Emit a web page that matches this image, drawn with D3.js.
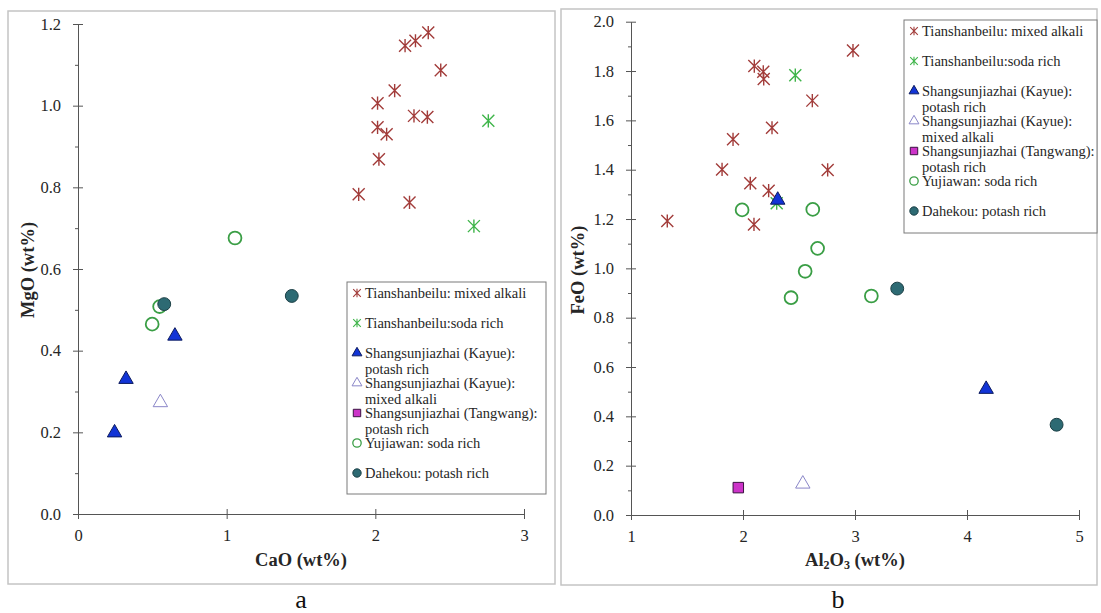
<!DOCTYPE html>
<html>
<head>
<meta charset="utf-8">
<title>CaO-MgO and Al2O3-FeO scatter</title>
<script src="https://cdn.jsdelivr.net/npm/d3@7"></script>
<style>
  body { margin: 0; background: #fff; }
  .axis path, .axis line { stroke: #555; }
</style>
</head>
<body>
<svg id="chart" width="1101" height="613"></svg>
<script>
// legend entries, some wrap onto a second line
var seriesLabels = [
  ["Tianshanbeilu: mixed alkali"],
  ["Tianshanbeilu:soda rich"],
  ["Shangsunjiazhai (Kayue):", "potash rich"],
  ["Shangsunjiazhai (Kayue):", "mixed alkali"],
  ["Shangsunjiazhai (Tangwang):", "potash rich"],
  ["Yujiawan: soda rich"],
  ["Dahekou: potash rich"]
];

// panel a : [CaO, MgO] in wt%
var aMixed = [[2.20,1.147],[2.27,1.159],[2.356,1.179],[2.44,1.087],[2.13,1.037],[2.015,1.006],
              [2.26,0.975],[2.35,0.972],[2.015,0.947],[2.076,0.930],[2.024,0.869],[1.888,0.783],[2.23,0.763]];
var aSoda = [[2.76,0.963],[2.663,0.705]];
var aKayuePotash = [[0.652,0.436],[0.323,0.330],[0.246,0.199]];
var aKayueMixed = [[0.554,0.273]];
var aTangwang = [];
var aYujiawan = [[1.056,0.676],[0.549,0.508],[0.499,0.465]];
var aDahekou = [[0.580,0.514],[1.438,0.534]];

// panel b : [Al2O3, FeO] in wt%
var bMixed = [[1.324,1.192],[1.813,1.401],[1.911,1.523],[2.101,1.820],[2.181,1.797],[2.185,1.768],
              [2.259,1.570],[2.065,1.345],[2.229,1.315],[2.098,1.178],[2.619,1.680],[2.756,1.399],[2.982,1.883]];
var bSoda = [[2.467,1.783],[2.301,1.264]];
var bKayuePotash = [[2.31,1.277],[4.171,0.510]];
var bKayueMixed = [[2.534,0.126]];
var bTangwang = [[1.958,0.111]];
var bYujiawan = [[1.992,1.237],[2.623,1.239],[2.666,1.081],[2.555,0.988],[2.429,0.881],[3.146,0.888]];
var bDahekou = [[3.377,0.918],[4.80,0.366]];

var xTicksA = [0, 1, 2, 3];
var xTicksB = [1, 2, 3, 4, 5];
var yTicksA = [0, 0.2, 0.4, 0.6, 0.8, 1.0, 1.2];
var yTicksB = [0, 0.2, 0.4, 0.6, 0.8, 1.0, 1.2, 1.4, 1.6, 1.8, 2.0];

var SERIF = "Liberation Serif";
var svg = d3.select("#chart");

// marker styles per series (same order as seriesLabels)
var styles = [
  {kind: "star", stroke: "#a23c3a", fill: "none"},
  {kind: "star", stroke: "#3fb54a", fill: "none"},
  {kind: "tri", stroke: "#0b1a5e", fill: "#1234d6"},
  {kind: "tri", stroke: "#8a86c8", fill: "#fff"},
  {kind: "sq", stroke: "#3a1240", fill: "#cc33c8"},
  {kind: "circ", stroke: "#3a9e45", fill: "#fff"},
  {kind: "circ", stroke: "#1b3f45", fill: "#2d6a73"}
];

function starPath(s) {
  var p = d3.path();
  p.moveTo(-s, -s); p.lineTo(s, s);
  p.moveTo(-s, s); p.lineTo(s, -s);
  p.moveTo(0, -s * 1.1); p.lineTo(0, s * 1.1);
  return p.toString();
}

function drawMarker(g, st, big) {
  if (st.kind == "star") {
    g.append("path").attr("d", starPath(big ? 6 : 3.8))
      .attr("stroke", st.stroke).attr("stroke-width", big ? 1.4 : 1.1).attr("fill", "none");
  } else {
    var type = st.kind == "tri" ? d3.symbolTriangle : st.kind == "sq" ? d3.symbolSquare : d3.symbolCircle;
    var size = big ? (st.kind == "tri" ? 90 : st.kind == "sq" ? 110 : 130) : (st.kind == "tri" ? 42 : 55);
    var sw = st.kind == "circ" && st.fill == "#fff" ? (big ? 1.8 : 1.3) : 1;
    g.append("path").attr("d", d3.symbol().type(type).size(size)())
      .attr("fill", st.fill).attr("stroke", st.stroke).attr("stroke-width", sw);
  }
}

function label(sel, size) {
  return sel.append("text").attr("font-family", SERIF).attr("font-size", size).attr("fill", "#262626");
}

function panel(cfg) {
  svg.append("rect").attr("x", cfg.box[0]).attr("y", cfg.box[1])
    .attr("width", cfg.box[2]).attr("height", cfg.box[3])
    .attr("fill", "#fff").attr("stroke", "#c4c4c4").attr("stroke-width", 1.5);

  var x = d3.scaleLinear().domain(cfg.xDomain).range([cfg.left, cfg.right]);
  var y = d3.scaleLinear().domain(cfg.yDomain).range([cfg.bottom, cfg.top]);

  // minor y ticks
  var minor = [];
  for (var i = 0; i < cfg.yTicks.length - 1; i++) minor.push((cfg.yTicks[i] + cfg.yTicks[i + 1]) / 2);
  svg.append("g").attr("class", "axis").attr("transform", "translate(" + cfg.left + ",0)")
    .call(d3.axisLeft(y).tickValues(minor).tickSize(3).tickFormat(""))
    .select(".domain").remove();

  var ya = svg.append("g").attr("class", "axis").attr("transform", "translate(" + cfg.left + ",0)")
    .call(d3.axisLeft(y).tickValues(cfg.yTicks).tickSizeOuter(0).tickFormat(d3.format(".1f")));
  ya.selectAll(".tick line").attr("x1", 5).attr("x2", -5);
  ya.selectAll(".tick text").attr("x", -17).attr("fill", "#262626")
    .attr("font-family", SERIF).attr("font-size", 16.5);

  var xa = svg.append("g").attr("class", "axis").attr("transform", "translate(0," + cfg.bottom + ")")
    .call(d3.axisBottom(x).tickValues(cfg.xTicks).tickSizeOuter(0).tickFormat(d3.format("d")));
  xa.selectAll(".tick line").attr("y1", -5).attr("y2", 5);
  xa.selectAll(".tick text").attr("y", 15).attr("fill", "#262626")
    .attr("font-family", SERIF).attr("font-size", 16.5);

  // points
  cfg.series.forEach(function (pts, si) {
    pts.forEach(function (d) {
      var g = svg.append("g").attr("transform", "translate(" + x(d[0]) + "," + y(d[1]) + ")");
      drawMarker(g, styles[si], true);
    });
  });

  // axis titles
  var xt = label(svg, 18.5).attr("x", (cfg.left + cfg.right) / 2).attr("y", 566)
    .attr("text-anchor", "middle").attr("font-weight", "bold");
  var prevSub = false;
  cfg.xTitle.forEach(function (part) {
    var t = xt.append("tspan").text(part[0]);
    if (part[1]) { t.attr("font-size", 12).attr("dy", 3); prevSub = true; }
    else if (prevSub) { t.attr("dy", -3); prevSub = false; }
  });
  label(svg, 18.5).attr("transform", "translate(" + cfg.yTitleX + ",270) rotate(-90)")
    .attr("text-anchor", "middle").attr("font-weight", "bold").text(cfg.yTitle);

  // caption letter
  label(svg, 26).attr("x", cfg.capX).attr("y", 608).attr("text-anchor", "middle")
    .attr("fill", "#111").text(cfg.caption);

  // legend
  var lg = svg.append("g").attr("transform", "translate(" + cfg.legend[0] + "," + cfg.legend[1] + ")");
  lg.append("rect").attr("width", cfg.legend[2]).attr("height", cfg.legend[3])
    .attr("fill", "#fff").attr("stroke", "#7a7a7a").attr("stroke-width", 1);
  seriesLabels.forEach(function (lines, i) {
    var cy = 11 + i * 30;
    var m = lg.append("g").attr("transform", "translate(10," + cy + ")");
    drawMarker(m, styles[i], false);
    lines.forEach(function (ln, j) {
      label(lg, 14.5).attr("x", 18).attr("y", cy + 5 + j * 16).text(ln);
    });
  });
}

panel({
  box: [8, 11, 547, 573],
  left: 78, right: 524, top: 24, bottom: 514,
  xDomain: [0, 3], yDomain: [0, 1.2],
  xTicks: xTicksA, yTicks: yTicksA,
  series: [aMixed, aSoda, aKayuePotash, aKayueMixed, aTangwang, aYujiawan, aDahekou],
  xTitle: [["CaO (wt%)"]],
  yTitle: "MgO (wt%)", yTitleX: 34,
  caption: "a", capX: 301,
  legend: [347, 282, 199, 212]
});

panel({
  box: [561, 9, 536, 576],
  left: 631, right: 1079, top: 21.7, bottom: 515,
  xDomain: [1, 5], yDomain: [0, 2.0],
  xTicks: xTicksB, yTicks: yTicksB,
  series: [bMixed, bSoda, bKayuePotash, bKayueMixed, bTangwang, bYujiawan, bDahekou],
  xTitle: [["Al"], ["2", true], ["O"], ["3", true], [" (wt%)"]],
  yTitle: "FeO (wt%)", yTitleX: 584,
  caption: "b", capX: 838,
  legend: [904, 20, 193, 213]
});
</script>
</body>
</html>
